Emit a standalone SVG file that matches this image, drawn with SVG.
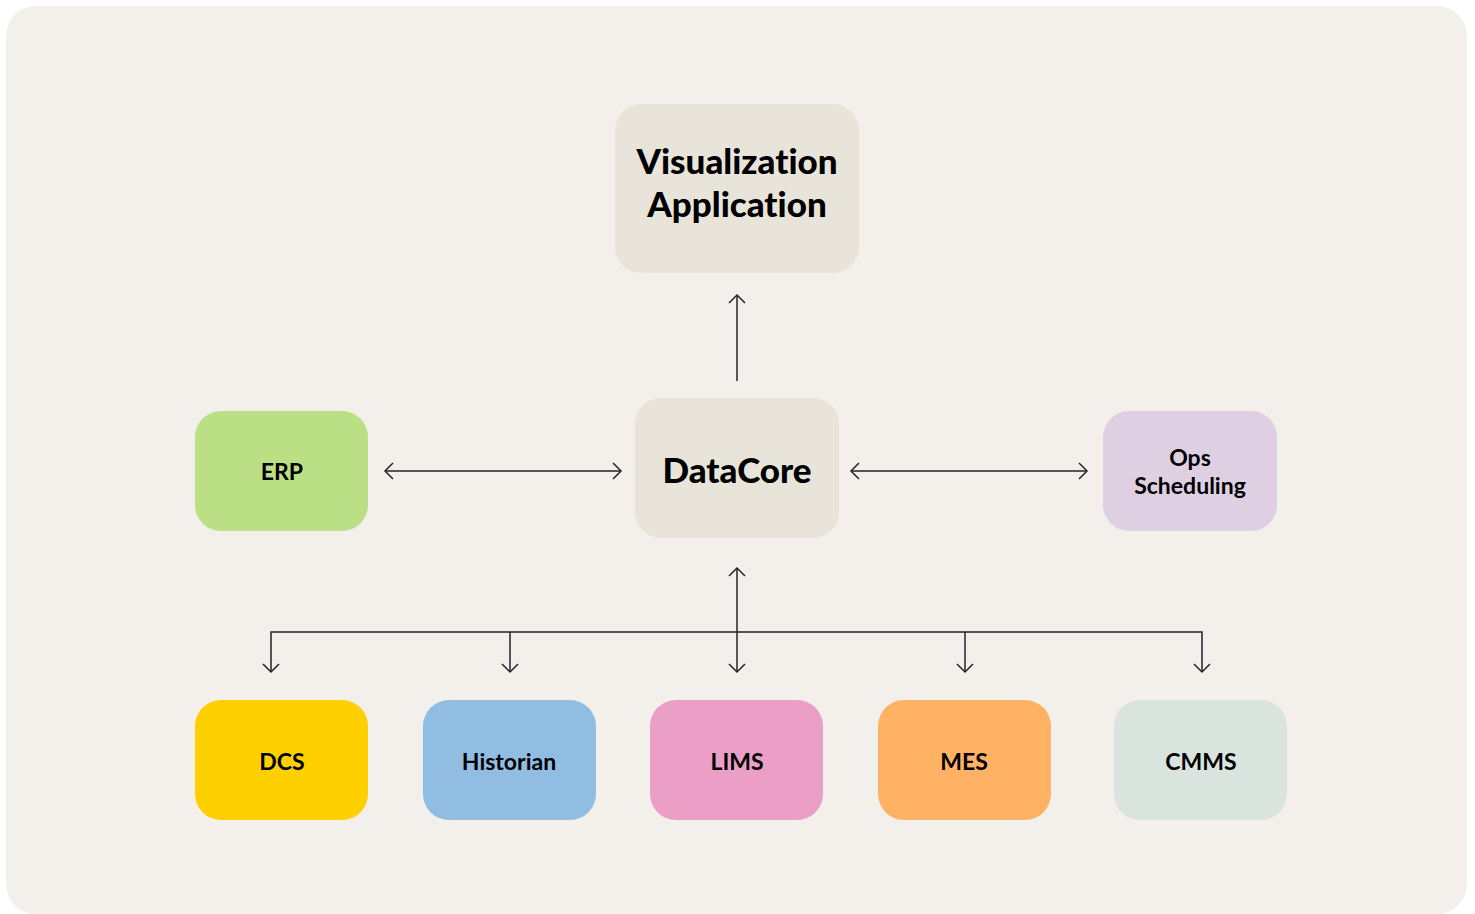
<svg xmlns="http://www.w3.org/2000/svg" width="1475" height="914" viewBox="0 0 1475 914">
<defs>
<marker id="arr" viewBox="0 0 20 20" refX="15" refY="10" markerWidth="20" markerHeight="20" markerUnits="userSpaceOnUse" orient="auto-start-reverse">
<path d="M7,2 L15,10 L7,18" fill="none" stroke="#1f2329" stroke-width="1.5"/>
</marker>
<style>
.box{stroke:none}
.t{font-family:Lato,"Noto Sans",sans-serif;fill:#000;text-anchor:middle;font-variant-ligatures:none;font-feature-settings:"liga" 0}
.big{font-size:35px;font-weight:900}
.sm{font-size:23px;font-weight:700}
.ln{fill:none;stroke:#1f2329;stroke-width:1.5}
</style>
</defs>
<rect width="1475" height="914" fill="#ffffff"/>
<rect x="6" y="6" width="1461" height="908" rx="30" fill="#F3F0EB"/>
<g id="connectors">
<line class="ln" x1="737" y1="381" x2="737" y2="295" marker-end="url(#arr)"/>
<line class="ln" x1="385" y1="471" x2="621" y2="471" marker-start="url(#arr)" marker-end="url(#arr)"/>
<line class="ln" x1="851" y1="471" x2="1087" y2="471" marker-start="url(#arr)" marker-end="url(#arr)"/>
<line class="ln" x1="737" y1="568" x2="737" y2="672" marker-start="url(#arr)" marker-end="url(#arr)"/>
<polyline class="ln" points="271,672 271,632 1202,632 1202,672" marker-start="url(#arr)" marker-end="url(#arr)"/>
<line class="ln" x1="510" y1="632" x2="510" y2="672" marker-end="url(#arr)"/>
<line class="ln" x1="965" y1="632" x2="965" y2="672" marker-end="url(#arr)"/>
</g>
<g id="viz">
<rect class="box" x="615" y="104" width="244" height="169" rx="26" fill="#E8E4DA"/>
<text class="t big" x="737" y="174"><tspan x="737" y="174">Visualization</tspan><tspan x="737" y="217">Application</tspan></text>
</g>
<g id="datacore">
<rect class="box" x="635" y="398" width="204" height="140" rx="26" fill="#E8E4DA"/>
<text class="t big" x="737" y="483">DataCore</text>
</g>
<g id="erp">
<rect class="box" x="195" y="411" width="173" height="120" rx="26" fill="#BBDF85"/>
<text class="t sm" x="282" y="480">ERP</text>
</g>
<g id="ops">
<rect class="box" x="1103" y="411" width="174" height="120" rx="26" fill="#DFCFE3"/>
<text class="t sm" x="1190" y="466"><tspan x="1190" y="466">Ops</tspan><tspan x="1190" y="494">Scheduling</tspan></text>
</g>
<g id="dcs">
<rect class="box" x="195" y="700" width="173" height="120" rx="26" fill="#FFD000"/>
<text class="t sm" x="282" y="770">DCS</text>
</g>
<g id="historian">
<rect class="box" x="423" y="700" width="173" height="120" rx="26" fill="#92BDE3"/>
<text class="t sm" x="509" y="770">Historian</text>
</g>
<g id="lims">
<rect class="box" x="650" y="700" width="173" height="120" rx="26" fill="#EB9FC6"/>
<text class="t sm" x="737" y="770">LIMS</text>
</g>
<g id="mes">
<rect class="box" x="878" y="700" width="173" height="120" rx="26" fill="#FFB264"/>
<text class="t sm" x="964" y="770">MES</text>
</g>
<g id="cmms">
<rect class="box" x="1114" y="700" width="173" height="120" rx="26" fill="#D9E4DF"/>
<text class="t sm" x="1201" y="770">CMMS</text>
</g>
</svg>
